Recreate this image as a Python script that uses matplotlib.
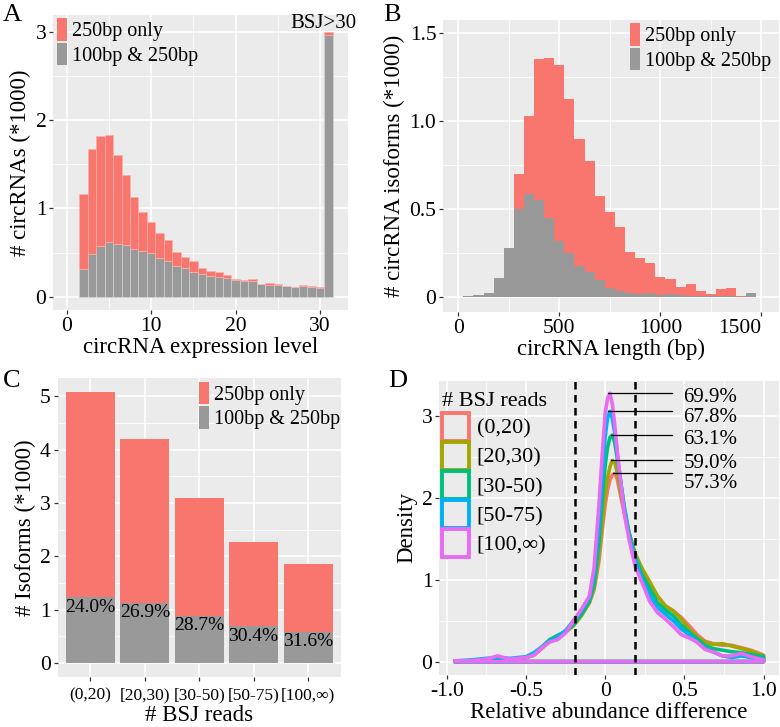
import numpy as np
import matplotlib
matplotlib.use("Agg")
import matplotlib.pyplot as plt
from matplotlib.patches import Patch
from matplotlib.ticker import FixedLocator

plt.rcParams['font.family'] = ['Liberation Serif', 'DejaVu Serif']

RED = '#F8766D'
GREY = '#999999'
PANEL = '#EBEBEB'

# ---------------- data ----------------
# Panel A: circRNA expression level histogram (counts *1000)
a_levels = [2, 3, 4, 5, 6, 7, 8, 9, 10, 11, 12, 13, 14, 15, 16, 17, 18, 19, 20, 21, 22, 23, 24, 25, 26, 27, 28, 29, 30, 31]
a_total = [1.16, 1.67, 1.82, 1.83, 1.61, 1.38, 1.13, 0.96, 0.845, 0.717, 0.642, 0.502, 0.453, 0.40, 0.325,
           0.294, 0.275, 0.245, 0.20, 0.189, 0.20, 0.147, 0.151, 0.143, 0.125, 0.113, 0.132, 0.12, 0.106, 3.0]
a_both = [0.309, 0.483, 0.574, 0.623, 0.592, 0.581, 0.536, 0.517, 0.491, 0.442, 0.404, 0.351, 0.328, 0.279, 0.252,
          0.234, 0.219, 0.208, 0.19, 0.174, 0.174, 0.14, 0.136, 0.132, 0.117, 0.11, 0.125, 0.113, 0.10, 2.96]

# Panel B: circRNA length histogram (isoforms *1000), bin centres in bp
b_length = [50, 100, 150, 200, 250, 300, 350, 400, 450, 500, 550, 600, 650, 700, 750, 800, 850, 900, 950,
            1000, 1050, 1100, 1150, 1200, 1250, 1300, 1350, 1400, 1450]
b_total = [0.004, 0.008, 0.02, 0.105, 0.28, 0.699, 1.032, 1.356, 1.362, 1.32, 1.128, 0.901, 0.775, 0.575, 0.485,
           0.40, 0.257, 0.219, 0.194, 0.114, 0.10, 0.053, 0.072, 0.034, 0.013, 0.046, 0.049, 0.002, 0.023]
b_both = [0.004, 0.008, 0.019, 0.105, 0.28, 0.501, 0.587, 0.552, 0.451, 0.318, 0.248, 0.175, 0.139, 0.095, 0.05,
          0.032, 0.019, 0.015, 0.023, 0.01, 0.013, 0.01, 0.006, 0.006, 0.004, 0.004, 0.003, 0.0, 0.023]

# Panel C: isoforms by BSJ reads
c_groups = ['(0,20)', '[20,30)', '[30-50)', '[50-75)', '[100,∞)']
c_total = [5.08, 4.19, 3.10, 2.27, 1.86]
c_both = [1.23, 1.13, 0.89, 0.69, 0.59]
c_pct = ['24.0%', '26.9%', '28.7%', '30.4%', '31.6%']

# Panel D: density of relative abundance difference
d_x = [-0.95, -0.85, -0.75, -0.68, -0.6, -0.5, -0.45, -0.4, -0.35, -0.3, -0.25, -0.2, -0.15, -0.1, -0.07,
       -0.04, -0.02, 0.0, 0.015, 0.03, 0.045, 0.06, 0.075, 0.09, 0.12, 0.15, 0.19, 0.23, 0.28, 0.33, 0.38,
       0.43, 0.48, 0.53, 0.58, 0.63, 0.68, 0.74, 0.8, 0.86, 0.92, 1.0]
d_r0_20 = [0.00, 0.01, 0.02, 0.03, 0.03, 0.05, 0.08, 0.16, 0.25, 0.30, 0.36, 0.46, 0.58, 0.72, 0.88,
           1.22, 1.58, 1.92, 2.10, 2.22, 2.28, 2.30, 2.24, 2.10, 1.82, 1.56, 1.30, 1.12, 0.96, 0.80, 0.68,
           0.62, 0.54, 0.44, 0.33, 0.25, 0.22, 0.20, 0.20, 0.17, 0.14, 0.08]
d_r20_30 = [0.00, 0.01, 0.02, 0.04, 0.03, 0.05, 0.08, 0.17, 0.26, 0.32, 0.36, 0.44, 0.56, 0.72, 0.90,
            1.30, 1.70, 2.05, 2.25, 2.38, 2.46, 2.44, 2.32, 2.15, 1.85, 1.58, 1.32, 1.15, 0.98, 0.80, 0.68,
            0.62, 0.52, 0.40, 0.30, 0.24, 0.21, 0.22, 0.19, 0.16, 0.13, 0.07]
d_r30_50 = [0.00, 0.01, 0.03, 0.04, 0.03, 0.05, 0.09, 0.18, 0.27, 0.32, 0.37, 0.45, 0.58, 0.74, 0.95,
            1.45, 1.95, 2.40, 2.62, 2.74, 2.77, 2.68, 2.50, 2.30, 1.90, 1.58, 1.28, 1.07, 0.90, 0.72, 0.63,
            0.56, 0.45, 0.36, 0.28, 0.20, 0.16, 0.14, 0.12, 0.11, 0.09, 0.06]
d_r50_75 = [0.01, 0.02, 0.04, 0.05, 0.04, 0.06, 0.11, 0.18, 0.25, 0.30, 0.38, 0.50, 0.62, 0.78, 1.05,
            1.65, 2.20, 2.75, 2.98, 3.06, 2.97, 2.80, 2.55, 2.32, 1.88, 1.55, 1.25, 1.02, 0.82, 0.66, 0.58,
            0.50, 0.40, 0.33, 0.24, 0.16, 0.12, 0.07, 0.05, 0.07, 0.05, 0.03]
d_r100 = [0.01, 0.01, 0.03, 0.07, 0.03, 0.05, 0.08, 0.17, 0.24, 0.27, 0.35, 0.50, 0.64, 0.80, 1.15,
          1.90, 2.50, 3.04, 3.22, 3.28, 3.15, 2.90, 2.60, 2.32, 1.82, 1.50, 1.16, 0.98, 0.74, 0.60, 0.52,
          0.43, 0.33, 0.29, 0.24, 0.15, 0.12, 0.07, 0.07, 0.10, 0.06, 0.02]
d_labels = ['(0,20)', '[20,30)', '[30-50)', '[50-75)', '[100,∞)']
d_colors = ['#F8766D', '#A3A500', '#00BF7D', '#00B0F6', '#E76BF3']
d_peak_pct = ['57.3%', '59.0%', '63.1%', '67.8%', '69.9%']
d_cut = [-0.19, 0.19]

# ---------------- figure ----------------
W, H = 780, 727
fig = plt.figure(figsize=(W / 100, H / 100), dpi=100)


def axrect(l, t, r, b):
    return [l / W, 1 - b / H, (r - l) / W, (b - t) / H]


def style(ax, xmaj, xmin, ymaj, ymin, xlabels, ylabels, xfs=15.5, yfs=15.5):
    ax.set_facecolor(PANEL)
    for s in ax.spines.values():
        s.set_visible(False)
    ax.xaxis.set_major_locator(FixedLocator(xmaj))
    ax.yaxis.set_major_locator(FixedLocator(ymaj))
    ax.xaxis.set_minor_locator(FixedLocator(xmin))
    ax.yaxis.set_minor_locator(FixedLocator(ymin))
    ax.set_xticklabels(xlabels, fontsize=xfs)
    ax.set_yticklabels(ylabels, fontsize=yfs)
    ax.grid(which='major', color='white', lw=1.1)
    ax.grid(which='minor', color='white', lw=0.55)
    ax.set_axisbelow(True)
    ax.tick_params(which='major', length=3, width=0.9, color='#333333', pad=2, labelcolor='black')
    ax.tick_params(which='minor', length=0)


def leg2(ax, anchor):
    handles = [Patch(facecolor=RED, edgecolor='none'), Patch(facecolor=GREY, edgecolor='none')]
    ax.legend(handles, ['250bp only', '100bp & 250bp'], loc='upper left', bbox_to_anchor=anchor,
              frameon=False, fontsize=14.5, handlelength=0.5, handleheight=1.36, labelspacing=0.08,
              handletextpad=0.25, borderpad=0, borderaxespad=0)


# Panel A
axA = fig.add_axes(axrect(53.3, 15, 348, 310))
axA.bar(a_levels, a_both, width=1.0, color=GREY, edgecolor='#d8d8d8', linewidth=0.4)
axA.bar(a_levels, np.array(a_total) - np.array(a_both), bottom=a_both, width=1.0, color=RED,
        edgecolor='#fbb3ad', linewidth=0.4)
axA.set_xlim(-1.58, 33.3)
axA.set_ylim(-0.15, 3.19)
style(axA, [0, 10, 20, 30], [5, 15, 25], [0, 1, 2, 3], [0.5, 1.5, 2.5],
      ['0', '10', '20', '30'], ['0', '1', '2', '3'])
axA.text(30.4, 2.99, 'BSJ>30', ha='center', va='bottom', fontsize=15)
axA.set_xlabel('circRNA expression level', fontsize=16.5, labelpad=1)
axA.set_ylabel('# circRNAs (*1000)', fontsize=16.5, labelpad=3)
leg2(axA, (0.013, 0.99))

# Panel B
axB = fig.add_axes(axrect(443.3, 20, 779, 311.7))
axB.bar(b_length, b_both, width=50, color=GREY, linewidth=0)
axB.bar(b_length, np.array(b_total) - np.array(b_both), bottom=b_both, width=50, color=RED, linewidth=0)
axB.set_xlim(-74, 1587)
axB.set_ylim(-0.085, 1.576)
style(axB, [0, 500, 1000, 1500], [250, 750, 1250], [0, 0.5, 1.0, 1.5], [0.25, 0.75, 1.25],
      ['0', '500', '1000', '1500'], ['0', '0.5', '1.0', '1.5'])
axB.get_xticklabels()[-1].set_horizontalalignment('right')
axB.get_xticklabels()[-1].set_x(1500)
axB.set_xlabel('circRNA length (bp)', fontsize=16.5, labelpad=1)
axB.set_ylabel('# circRNA isoforms (*1000)', fontsize=16.5, labelpad=3)
leg2(axB, (0.555, 0.99))

# Panel C
axC = fig.add_axes(axrect(57.7, 378.3, 340.7, 676.7))
cx = np.arange(len(c_groups))
axC.bar(cx, c_both, width=0.9, color=GREY, linewidth=0)
axC.bar(cx, np.array(c_total) - np.array(c_both), bottom=c_both, width=0.9, color=RED, linewidth=0)
for i in range(len(c_groups)):
    axC.text(cx[i], c_both[i] - 0.03, c_pct[i], ha='center', va='top', fontsize=14)
axC.set_xlim(-0.6, 4.6)
axC.set_ylim(-0.254, 5.334)
style(axC, list(cx), [], [0, 1, 2, 3, 4, 5], [0.5, 1.5, 2.5, 3.5, 4.5],
      c_groups, ['0', '1', '2', '3', '4', '5'], xfs=12.5)
axC.tick_params(axis='x', pad=5)
axC.set_xlabel('# BSJ reads', fontsize=16.5, labelpad=1)
axC.set_ylabel('# Isoforms (*1000)', fontsize=16.5, labelpad=3)
leg2(axC, (0.50, 0.989))

# Panel D
axD = fig.add_axes(axrect(439.3, 380.7, 779, 675))
series = [d_r0_20, d_r20_30, d_r30_50, d_r50_75, d_r100]
xs = np.array(d_x)
for ys, col in zip(series, d_colors):
    ys = np.array(ys)
    px = np.r_[xs, xs[::-1], xs[:1]]
    py = np.r_[ys, np.zeros_like(ys), ys[:1]]
    axD.plot(px, py, color=col, lw=2.6, solid_joinstyle='round', solid_capstyle='round')
for c in d_cut:
    axD.axvline(c, color='black', lw=1.8, ls=(0, (3, 2.2)))
label_y = [2.18, 2.42, 2.71, 2.99, 3.23]
for i, ys in enumerate(series):
    k = int(np.argmax(ys))
    axD.plot([d_x[k] - 0.01, 0.42], [ys[k], ys[k]], color='black', lw=0.9)
    axD.text(0.494, label_y[i], d_peak_pct[i], ha='left', va='center', fontsize=15)
axD.set_xlim(-1.0475, 1.0975)
axD.set_ylim(-0.1635, 3.434)
style(axD, [-1.0, -0.5, 0, 0.5, 1.0], [-0.75, -0.25, 0.25, 0.75], [0, 1, 2, 3], [0.5, 1.5, 2.5],
      ['-1.0', '-0.5', '0', '0.5', '1.0'], ['0', '1', '2', '3'])
axD.set_xlabel('Relative abundance difference', fontsize=16.5, labelpad=1)
axD.set_ylabel('Density', fontsize=16.5, labelpad=3)
dh = [Patch(facecolor=PANEL, edgecolor=c, linewidth=2.8) for c in d_colors]
lg = axD.legend(dh, d_labels, title='# BSJ reads', loc='upper left', bbox_to_anchor=(0.007, 0.96),
                frameon=False, fontsize=16, title_fontsize=16, handlelength=1.22, handleheight=1.56,
                labelspacing=0.05, handletextpad=0.35, borderpad=0, borderaxespad=0, alignment='left')

# Panel letters
fig.text(3 / W, 1 - 4 / H, 'A', fontsize=19, va='top', ha='left')
fig.text(383 / W, 1 - 4 / H, 'B', fontsize=19, va='top', ha='left')
fig.text(3 / W, 1 - 370 / H, 'C', fontsize=19, va='top', ha='left')
fig.text(388 / W, 1 - 370 / H, 'D', fontsize=19, va='top', ha='left')

fig.savefig('out.png', dpi=100)
